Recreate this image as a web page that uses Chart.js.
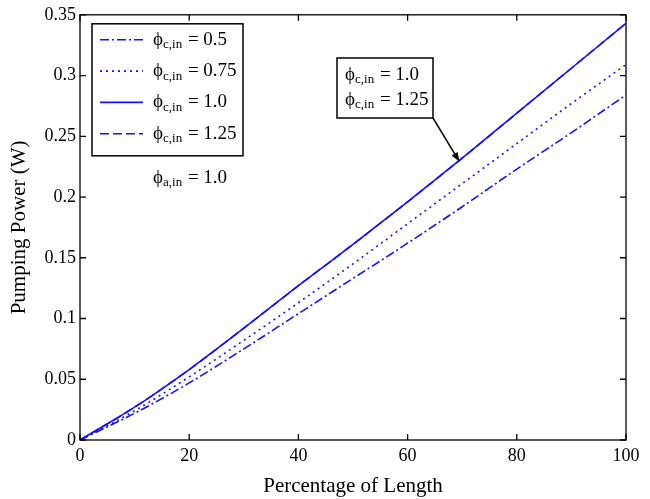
<!DOCTYPE html>
<html>
<head>
<meta charset="utf-8">
<script src="https://cdn.jsdelivr.net/npm/chart.js@4"></script>
<style>
  html, body { margin: 0; padding: 0; background: #fff; }
  #wrap { width: 650px; height: 499px; }
</style>
</head>
<body>
<div id="wrap"><canvas id="pumpChart"></canvas></div>
<script>
var lengthPct = [0, 10, 20, 30, 40, 50, 60, 70, 80, 90, 100];

var phi050 = [0, 0.022, 0.047, 0.075, 0.104, 0.133, 0.162, 0.192, 0.223, 0.253, 0.284];
var phi075 = [0, 0.024, 0.052, 0.082, 0.113, 0.145, 0.178, 0.211, 0.244, 0.277, 0.309];
var phi100 = [0, 0.027, 0.058, 0.092, 0.127, 0.161, 0.196, 0.232, 0.269, 0.306, 0.343];
var phi125 = [0, 0.027, 0.058, 0.092, 0.127, 0.161, 0.196, 0.232, 0.269, 0.306, 0.343];

var seriesNames = ['0.5', '0.75', '1.0', '1.25'];
var xTicks = [0, 20, 40, 60, 80, 100];
var yTicks = [0, 0.05, 0.1, 0.15, 0.2, 0.25, 0.3, 0.35];

var SERIF = '"Liberation Serif", "Times New Roman", serif';
var BLUE = 'rgb(20, 20, 235)';

function pts(ys) {
    return ys.map(function(v, i) { return { x: lengthPct[i], y: v }; });
}

// phi with a subscript, then the rest of the label
function drawPhi(ctx, x, y, sub, rest) {
    ctx.font = '19px ' + SERIF;
    ctx.fillText('\u03D5', x, y);
    var w = ctx.measureText('\u03D5').width;
    ctx.font = '13px ' + SERIF;
    ctx.fillText(sub, x + w, y + 5);
    var w2 = ctx.measureText(sub).width;
    ctx.font = '19px ' + SERIF;
    ctx.fillText(rest, x + w + w2 + 1, y);
}

var framePlugin = {
    id: 'frame',
    afterDatasetsDraw: function(chart) {
        var ctx = chart.ctx, a = chart.chartArea;
        var xs = chart.scales.x, ys = chart.scales.y;
        ctx.save();
        ctx.strokeStyle = '#000';
        ctx.lineWidth = 1.3;
        ctx.strokeRect(a.left, a.top, a.right - a.left, a.bottom - a.top);
        ctx.beginPath();
        xTicks.forEach(function(t) {
            var px = xs.getPixelForValue(t);
            ctx.moveTo(px, a.bottom); ctx.lineTo(px, a.bottom - 6);
            ctx.moveTo(px, a.top); ctx.lineTo(px, a.top + 6);
        });
        yTicks.forEach(function(t) {
            var py = ys.getPixelForValue(t);
            ctx.moveTo(a.left, py); ctx.lineTo(a.left + 6, py);
            ctx.moveTo(a.right, py); ctx.lineTo(a.right - 6, py);
        });
        ctx.stroke();

        // legend box
        var lx = a.left + 12, ly = a.top + 9, lw = 151, lh = 132;
        ctx.fillStyle = '#fff';
        ctx.fillRect(lx, ly, lw, lh);
        ctx.lineWidth = 1.5;
        ctx.strokeRect(lx, ly, lw, lh);
        ctx.textBaseline = 'middle';
        ctx.fillStyle = '#000';
        chart.data.datasets.forEach(function(ds, i) {
            var yy = ly + 16 + i * 31.3;
            ctx.save();
            ctx.strokeStyle = ds.borderColor;
            ctx.lineWidth = ds.borderWidth;
            ctx.setLineDash(ds.borderDash || []);
            ctx.beginPath();
            ctx.moveTo(lx + 8, yy); ctx.lineTo(lx + 51, yy);
            ctx.stroke();
            ctx.restore();
            drawPhi(ctx, lx + 61, yy, 'c,in', ' = ' + seriesNames[i]);
        });
        drawPhi(ctx, lx + 61, a.top + 163, 'a,in', ' = 1.0');

        // callout pointing at the coincident curves
        var bx = 337, by = 58, bw = 96, bh = 60;
        ctx.lineWidth = 1.5;
        ctx.strokeRect(bx, by, bw, bh);
        drawPhi(ctx, bx + 8, by + 17, 'c,in', ' = 1.0');
        drawPhi(ctx, bx + 8, by + 42, 'c,in', ' = 1.25');
        var tx = xs.getPixelForValue(69.5), ty = ys.getPixelForValue(0.229);
        var sx = bx + bw, sy = by + bh;
        var ang = Math.atan2(ty - sy, tx - sx);
        ctx.beginPath();
        ctx.moveTo(sx, sy); ctx.lineTo(tx - 6 * Math.cos(ang), ty - 6 * Math.sin(ang));
        ctx.stroke();
        ctx.beginPath();
        ctx.moveTo(tx, ty);
        ctx.lineTo(tx - 10 * Math.cos(ang - 0.35), ty - 10 * Math.sin(ang - 0.35));
        ctx.lineTo(tx - 10 * Math.cos(ang + 0.35), ty - 10 * Math.sin(ang + 0.35));
        ctx.closePath();
        ctx.fill();
        ctx.restore();
    }
};

var pumpChart = new Chart(document.getElementById('pumpChart'), {
    type: 'line',
    data: {
        datasets: [{
            label: seriesNames[0],
            data: pts(phi050),
            borderColor: BLUE,
            borderWidth: 1.6,
            borderDash: [9, 3, 2, 3],
            order: 3
        },
        {
            label: seriesNames[1],
            data: pts(phi075),
            borderColor: BLUE,
            borderWidth: 1.6,
            borderDash: [2, 4],
            order: 2
        },
        {
            label: seriesNames[2],
            data: pts(phi100),
            borderColor: BLUE,
            borderWidth: 1.6,
            order: 0
        },
        {
            label: seriesNames[3],
            data: pts(phi125),
            borderColor: BLUE,
            borderWidth: 1.6,
            borderDash: [9, 4],
            order: 1
        }]
    },
    options: {
        responsive: true,
        maintainAspectRatio: false,
        animation: false,
        events: [],
        layout: { padding: { left: 0, right: 24, top: 14, bottom: 0 } },
        elements: { point: { radius: 0 }, line: { tension: 0.3, cubicInterpolationMode: 'monotone' } },
        plugins: { legend: { display: false }, tooltip: { enabled: false } },
        scales: {
            x: {
                type: 'linear',
                min: 0, max: 100,
                afterFit: function(s) { s.height = 59; },
                afterBuildTicks: function(s) { s.ticks = xTicks.map(function(v) { return { value: v }; }); },
                grid: { display: false, drawTicks: false },
                border: { display: false },
                ticks: { color: '#000', font: { family: SERIF, size: 18 }, padding: 5, maxRotation: 0 },
                title: { display: true, text: 'Percentage of Length', color: '#000', font: { family: SERIF, size: 21 }, padding: { top: 0, bottom: 0 } }
            },
            y: {
                min: 0, max: 0.35,
                afterFit: function(s) { s.width = 80; },
                afterBuildTicks: function(s) { s.ticks = yTicks.map(function(v) { return { value: v }; }); },
                grid: { display: false, drawTicks: false },
                border: { display: false },
                ticks: {
                    color: '#000', font: { family: SERIF, size: 18 }, padding: 4,
                    callback: function(v) { return String(Math.round(v * 100) / 100); }
                },
                title: { display: true, text: 'Pumping Power (W)', color: '#000', font: { family: SERIF, size: 21 }, padding: { top: 7, bottom: 0 } }
            }
        }
    },
    plugins: [framePlugin]
});
</script>
</body>
</html>
